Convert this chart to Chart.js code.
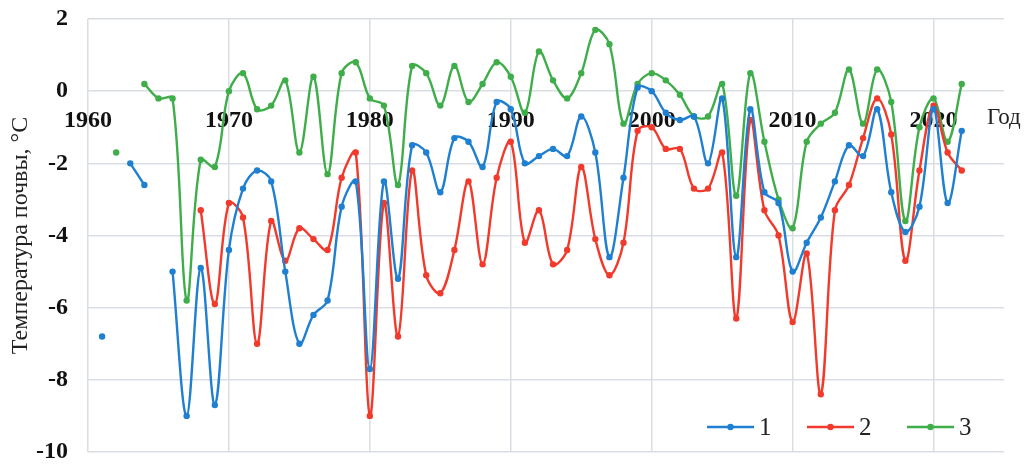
<!DOCTYPE html>
<html>
<head>
<meta charset="utf-8">
<script src="https://cdn.jsdelivr.net/npm/chart.js@4/dist/chart.umd.min.js"></script>
<style>
  html, body { margin: 0; padding: 0; background: #fff; }
  #wrap { width: 1029px; height: 464px; }
</style>
</head>
<body>
<div id="wrap"><canvas id="soilChart" width="1029" height="464"></canvas></div>
<script>
// Годы наблюдений
const years = [
  1961, 1962, 1963, 1964, 1965, 1966, 1967, 1968, 1969, 1970,
  1971, 1972, 1973, 1974, 1975, 1976, 1977, 1978, 1979, 1980,
  1981, 1982, 1983, 1984, 1985, 1986, 1987, 1988, 1989, 1990,
  1991, 1992, 1993, 1994, 1995, 1996, 1997, 1998, 1999, 2000,
  2001, 2002, 2003, 2004, 2005, 2006, 2007, 2008, 2009, 2010,
  2011, 2012, 2013, 2014, 2015, 2016, 2017, 2018, 2019, 2020,
  2021, 2022
];

// Серия 1
const series1 = [
  -6.8, null, -2.0, -2.6, null, -5.0, -9.0, -4.9, -8.7, -4.4,
  -2.7, -2.2, -2.5, -5.0, -7.0, -6.2, -5.8, -3.2, -2.5, -7.7,
  -2.5, -5.2, -1.5, -1.7, -2.8, -1.3, -1.4, -2.1, -0.3, -0.5,
  -2.0, -1.8, -1.6, -1.8, -0.7, -1.7, -4.6, -2.4, 0.1, 0.0,
  -0.6, -0.8, -0.7, -2.0, -0.2, -4.6, -0.5, -2.8, -3.1, -5.0,
  -4.2, -3.5, -2.5, -1.5, -1.8, -0.5, -2.8, -3.9, -3.2, -0.5,
  -3.1, -1.1
];

// Серия 2
const series2 = [
  null, null, null, null, null, null, null, -3.3, -5.9, -3.1,
  -3.5, -7.0, -3.6, -4.7, -3.8, -4.1, -4.4, -2.4, -1.7, -9.0,
  -3.1, -6.8, -2.2, -5.1, -5.6, -4.4, -2.5, -4.8, -2.4, -1.4,
  -4.2, -3.3, -4.8, -4.4, -2.1, -4.1, -5.1, -4.2, -1.1, -1.0,
  -1.6, -1.6, -2.7, -2.7, -1.7, -6.3, -0.8, -3.3, -4.0, -6.4,
  -4.5, -8.4, -3.3, -2.6, -1.3, -0.2, -1.2, -4.7, -2.2, -0.4,
  -1.7, -2.2
];

// Серия 3
const series3 = [
  null, -1.7, null, 0.2, -0.2, -0.2, -5.8, -1.9, -2.1, 0.0,
  0.5, -0.5, -0.4, 0.3, -1.7, 0.4, -2.3, 0.5, 0.8, -0.2,
  -0.4, -2.6, 0.7, 0.5, -0.4, 0.7, -0.3, 0.2, 0.8, 0.4,
  -0.6, 1.1, 0.3, -0.2, 0.5, 1.7, 1.3, -0.9, 0.2, 0.5,
  0.3, -0.1, -0.7, -0.7, 0.2, -2.9, 0.5, -1.4, -3.0, -3.8,
  -1.4, -0.9, -0.6, 0.6, -0.9, 0.6, -0.3, -3.6, -1.0, -0.2,
  -1.4, 0.2
];

const seriesLabels = ['1', '2', '3'];
const seriesColors = ['#1f7fd0', '#f23a2c', '#3fae4a'];

const yTitle = 'Температура почвы, °C';
const xTitle = 'Год';

const serif = '"Liberation Serif", "Times New Roman", serif';

function toPoints(values) {
  return years.map((yr, i) => ({ x: yr, y: values[i] }));
}

function makeDataset(values, idx) {
  return {
    label: seriesLabels[idx],
    data: toPoints(values),
    borderColor: seriesColors[idx],
    backgroundColor: seriesColors[idx],
    borderWidth: 2.4,
    pointRadius: 3.2,
    pointBorderWidth: 0,
    tension: 0.35,
    spanGaps: false,
    fill: false
  };
}

// Подпись "Год" и легенда внутри области графика
const extrasPlugin = {
  id: 'extras',
  afterDraw(chart) {
    const { ctx, chartArea, scales } = chart;
    ctx.save();
    ctx.fillStyle = '#222';
    ctx.textBaseline = 'middle';
    ctx.textAlign = 'left';
    ctx.font = '23px ' + serif;
    ctx.fillText(xTitle, chartArea.right - 17, scales.y.getPixelForValue(0) + 27);

    // легенда
    const legendY = chartArea.bottom - 25;
    let lx = chartArea.right - 297;
    chart.data.datasets.forEach(ds => {
      ctx.strokeStyle = ds.borderColor;
      ctx.fillStyle = ds.borderColor;
      ctx.lineWidth = 2.5;
      ctx.beginPath();
      ctx.moveTo(lx, legendY);
      ctx.lineTo(lx + 47, legendY);
      ctx.stroke();
      ctx.beginPath();
      ctx.arc(lx + 23.5, legendY, 3.2, 0, Math.PI * 2);
      ctx.fill();
      ctx.fillStyle = '#222';
      ctx.font = '25px ' + serif;
      ctx.fillText(ds.label, lx + 52, legendY + 1);
      lx += 100;
    });
    ctx.restore();
  }
};

const ctx = document.getElementById('soilChart').getContext('2d');
new Chart(ctx, {
  type: 'line',
  data: {
    datasets: [
      makeDataset(series1, 0),
      makeDataset(series2, 1),
      makeDataset(series3, 2)
    ]
  },
  options: {
    responsive: false,
    animation: false,
    layout: {
      padding: { left: 4, right: 25, top: 19, bottom: 12 }
    },
    plugins: {
      legend: { display: false },
      tooltip: { enabled: false }
    },
    scales: {
      x: {
        type: 'linear',
        position: { y: 0 },
        min: 1960,
        max: 2025,
        afterFit(scale) {
          scale.height = 0;
          scale.paddingLeft = 0;
          scale.paddingRight = 0;
        },
        grid: { color: '#d9dee3', lineWidth: 1.5, drawTicks: false },
        border: { display: false },
        ticks: {
          stepSize: 10,
          includeBounds: false,
          padding: 15,
          color: '#111',
          font: { family: serif, size: 24, weight: 'bold' },
          maxRotation: 0,
          callback: v => String(v)
        }
      },
      y: {
        min: -10,
        max: 2,
        afterFit(scale) {
          scale.width = 84;
          scale.paddingTop = 0;
          scale.paddingBottom = 0;
        },
        grid: { color: '#d9dee3', lineWidth: 1.5, drawTicks: false },
        border: { display: false },
        ticks: {
          stepSize: 2,
          padding: 20,
          color: '#111',
          font: { family: serif, size: 24, weight: 'bold' }
        },
        title: {
          display: true,
          text: yTitle,
          color: '#222',
          font: { family: serif, size: 24 },
          padding: { top: 2, bottom: 0 }
        }
      }
    }
  },
  plugins: [extrasPlugin]
});
</script>
</body>
</html>
